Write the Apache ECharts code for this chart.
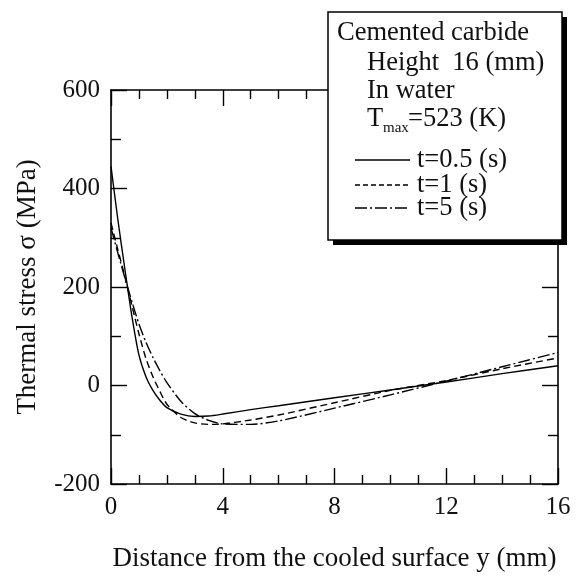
<!DOCTYPE html>
<html><head><meta charset="utf-8">
<script src="https://cdn.jsdelivr.net/npm/echarts@6/dist/echarts.min.js"></script>
<style>html,body{margin:0;padding:0;background:#fff;overflow:hidden}#c{width:586px;height:577px}</style>
</head><body><div id="c"></div>
<script>
// Distance from cooled surface y (mm)
const xs = [0, 0.25, 0.5, 0.75, 1, 1.25, 1.5, 1.75, 2, 2.5, 3, 3.5, 4, 5, 6, 8, 10, 12, 14, 16];
// Thermal stress (MPa)
const stress_t05 = [445, 335, 235, 140, 62, 18, -10, -30, -45, -58, -63, -62, -58, -49, -41, -25, -9, 7, 24, 40];
const stress_t1  = [330, 275, 220, 162, 105, 55, 18, -12, -38, -65, -76, -79, -78, -70, -60, -35, -10, 10, 34, 56];
const stress_t5  = [320, 268, 218, 170, 125, 88, 57, 30, 6, -32, -57, -71, -78, -79, -72, -46, -19, 9, 38, 67];
const seriesNames = ['t=0.5 (s)', 't=1 (s)', 't=5 (s)'];
const boxLines = ['Cemented carbide', 'Height  16 (mm)', 'In water'];

const FONT = '"Liberation Serif", "Times New Roman", serif';
const chart = echarts.init(document.getElementById('c'), null, {renderer: 'canvas', width: 586, height: 577});

const axisLine = {show: true, onZero: false, lineStyle: {color: '#000', width: 1.6}};
function xAx(pos, showLabel, name) {
  return {
    type: 'value', position: pos, min: 0, max: 16, interval: 4,
    name: name || '', nameLocation: 'middle', nameGap: 61,
    nameTextStyle: {fontFamily: FONT, fontSize: 27, color: '#111'},
    axisLine: axisLine,
    axisTick: {show: true, inside: true, length: 16, lineStyle: {color: '#000', width: 1.4}},
    minorTick: {show: true, splitNumber: 4, length: 9, lineStyle: {color: '#000', width: 1.4}},
    axisLabel: {show: showLabel, margin: 11, fontFamily: FONT, fontSize: 25, color: '#111'},
    splitLine: {show: false}, minorSplitLine: {show: false}
  };
}
function yAx(pos, showLabel, name) {
  return {
    type: 'value', position: pos, min: -200, max: 600, interval: 200,
    name: name || '', nameLocation: 'middle', nameGap: 70, nameRotate: 90,
    nameTextStyle: {fontFamily: FONT, fontSize: 27, color: '#111'},
    axisLine: axisLine,
    axisTick: {show: true, inside: true, length: 16, lineStyle: {color: '#000', width: 1.4}},
    minorTick: {show: true, splitNumber: 2, length: 10, lineStyle: {color: '#000', width: 1.4}},
    axisLabel: {show: showLabel, margin: 11, fontFamily: FONT, fontSize: 25, color: '#111'},
    splitLine: {show: false}, minorSplitLine: {show: false}
  };
}
function mk(name, ys, type) {
  return {
    name: name, type: 'line', xAxisIndex: 0, yAxisIndex: 0,
    data: xs.map((x, i) => [x, ys[i]]),
    smooth: 0.25, showSymbol: false, symbol: 'none',
    lineStyle: {color: '#000', width: 1.4, type: type},
    z: 3
  };
}

const txt = (t, x, y, size) => ({
  type: 'text', z: 102,
  x: x, y: y,
  style: {text: t, fill: '#111', font: (size || 26.5) + 'px ' + FONT, textVerticalAlign: 'middle', verticalAlign: 'middle'}
});
const legLine = (y, dash) => ({
  type: 'line', z: 102,
  shape: {x1: 355, y1: y, x2: 410, y2: y},
  style: {stroke: '#000', lineWidth: 1.4, lineDash: dash}
});

chart.setOption({
  animation: false,
  backgroundColor: '#fff',
  grid: {left: 111, top: 90, width: 447, height: 400, containLabel: false},
  xAxis: [xAx('bottom', true, 'Distance from the cooled surface y (mm)'), xAx('top', false)],
  yAxis: [yAx('left', true, 'Thermal stress σ (MPa)'), yAx('right', false)],
  series: [
    mk(seriesNames[0], stress_t05, 'solid'),
    mk(seriesNames[1], stress_t1, [7, 4]),
    mk(seriesNames[2], stress_t5, [12, 3, 2, 3])
  ],
  graphic: [
    {type: 'rect', z: 100, shape: {x: 333, y: 17, width: 234, height: 228}, style: {fill: '#000'}},
    {type: 'rect', z: 101, shape: {x: 328, y: 12, width: 234, height: 228}, style: {fill: '#fff', stroke: '#000', lineWidth: 1.5}},
    txt(boxLines[0], 337, 33),
    txt(boxLines[1], 367, 63),
    txt(boxLines[2], 367, 91),
    txt('T', 367, 119),
    txt('max', 383, 128, 15),
    txt('=523 (K)', 408, 119),
    legLine(160, null),
    legLine(185, [5, 3]),
    legLine(208, [12, 3, 2, 3]),
    txt(seriesNames[0], 417, 160),
    txt(seriesNames[1], 417, 185),
    txt(seriesNames[2], 417, 208)
  ]
});
</script>
</body></html>
